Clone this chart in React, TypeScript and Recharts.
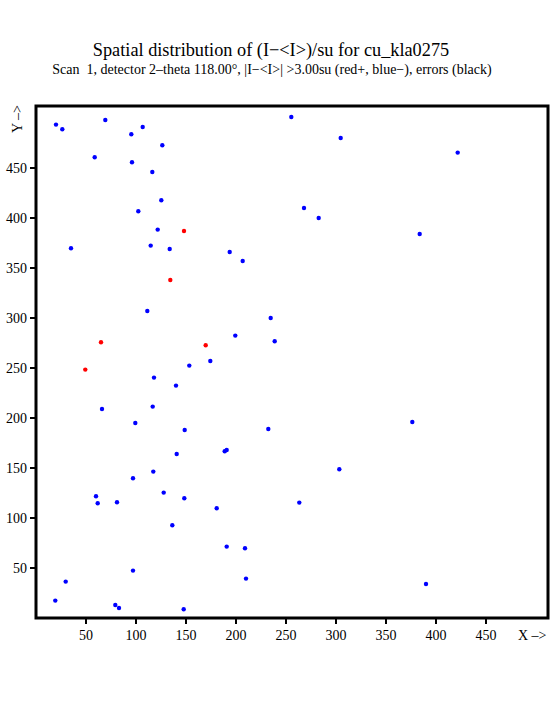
import React from "react";
import { ScatterChart, Scatter, XAxis, YAxis, ReferenceArea } from "recharts";

const titleText = "Spatial distribution of (I\u2212<I>)/su for cu_kla0275";
const subtitleText =
  "Scan  1, detector 2\u2013theta 118.00\u00b0, |I\u2212<I>| >3.00su (red+, blue\u2212), errors (black)";

const xTicks = [50, 100, 150, 200, 250, 300, 350, 400, 450];
const yTicks = [50, 100, 150, 200, 250, 300, 350, 400, 450];

const blueX = [
  20, 26.3, 69.3, 95.3, 106.7, 126.3, 58.7, 96, 116.3, 125.3, 102.3, 121.7, 35, 114.7, 133.7, 193.7, 206.7,
  255.3, 304.7, 421.7, 268, 282.7, 383.7,
  111.3, 234.7, 199.3, 238.7, 174.3, 153.3, 118, 140, 66, 116.7, 99.3, 148.7, 232.3, 376.3,
  140.7, 188.7, 190.7, 117.3, 97, 127.7, 148.3, 60, 61.7, 81, 180.7, 136.3, 190.7, 209, 97, 210, 29.7, 19.3,
  79.3, 83, 147.7, 303.3, 263.3, 390,
];
const blueY = [
  493.4, 488.7, 498, 483.7, 491, 472.7, 460.7, 455.7, 446, 417.7, 406.7, 388.4, 369.7, 372.4, 369, 366, 357,
  501, 480, 465.4, 410, 400, 384,
  307, 300, 282.4, 276.7, 257, 252.4, 240.4, 232.4, 209, 211.4, 195, 188, 189, 196,
  164, 166.7, 168, 146.4, 139.7, 125.4, 119.7, 121.7, 114.7, 115.7, 109.7, 92.7, 71.4, 69.7, 47.4, 39.4, 36.4,
  17.4, 13, 10, 8.7, 148.7, 115.4, 34,
];

const redX = [148, 134.3, 65, 169.7, 49.3];
const redY = [387, 338, 275.7, 272.7, 248.4];

const blueData = blueX.map((x, i) => ({ x, y: blueY[i] }));
const redData = redX.map((x, i) => ({ x, y: redY[i] }));

const font = "'Liberation Serif', 'Times New Roman', serif";

const dot = (color: string) => (props: any) => (
  <circle cx={props.cx} cy={props.cy} r={2.2} fill={color} />
);

export default function App() {
  return (
    <div style={{ position: "absolute", left: 0, top: 0, width: 555, height: 725, background: "#fff", fontFamily: font }}>
      <div style={{ position: "absolute", left: 0, top: 0 }}>
        <ScatterChart width={555} height={725} margin={{ top: 106, right: 7, bottom: 77, left: 0 }}>
          <XAxis
            type="number"
            dataKey="x"
            domain={[0, 512]}
            ticks={xTicks}
            allowDataOverflow
            height={30}
            axisLine={false}
            tickLine={{ stroke: "#000", strokeWidth: 2 }}
            tickSize={6}
            tickMargin={6}
            tick={{ fill: "#000", fontSize: 14, fontFamily: font }}
          />
          <YAxis
            type="number"
            dataKey="y"
            domain={[0, 512]}
            ticks={yTicks}
            allowDataOverflow
            width={36}
            axisLine={false}
            tickLine={{ stroke: "#000", strokeWidth: 2 }}
            tickSize={6}
            tickMargin={3}
            tick={{ fill: "#000", fontSize: 14, fontFamily: font }}
          />
          <ReferenceArea x1={0} x2={512} y1={0} y2={512} fill="none" fillOpacity={0} stroke="#000" strokeWidth={3} ifOverflow="visible" />
          <Scatter data={blueData} shape={dot("#0000ff")} isAnimationActive={false} />
          <Scatter data={redData} shape={dot("#ff0000")} isAnimationActive={false} />
        </ScatterChart>
      </div>
      <svg width={555} height={725} style={{ position: "absolute", left: 0, top: 0, pointerEvents: "none" }}>
        <text x={271} y={55.7} textAnchor="middle" fontSize={18.3} fontFamily={font} fill="#000">
          {titleText}
        </text>
        <text x={272} y={74.3} textAnchor="middle" fontSize={14} fontFamily={font} fill="#000" style={{ whiteSpace: "pre" }}>
          {subtitleText}
        </text>
        <text
          x={0}
          y={0}
          transform="translate(22,119) rotate(-90)"
          textAnchor="middle"
          fontSize={14}
          fontFamily={font}
          fill="#000"
        >
          {"Y \u2013>"}
        </text>
        <text x={518} y={640} fontSize={14} fontFamily={font} fill="#000">
          {"X \u2013>"}
        </text>
      </svg>
    </div>
  );
}
